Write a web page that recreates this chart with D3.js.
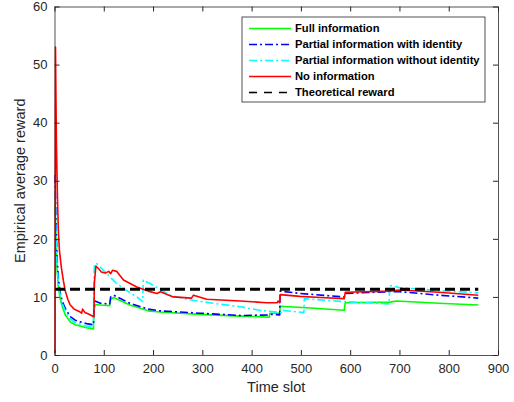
<!DOCTYPE html>
<html>
  <head>
    <meta charset="utf-8" />
    <style>
      body {
        margin: 0;
        background: #fff;
      }
      svg {
        font-family: "Liberation Sans", Arial, sans-serif;
      }
      .axis text {
        font-size: 13px;
        fill: #262626;
      }
      .axis line,
      .axis path {
        stroke: #262626;
      }
      .axis-label {
        font-size: 14.5px;
        fill: #262626;
      }
      .legend text {
        font-size: 11.2px;
        font-weight: bold;
        fill: #000;
      }
    </style>
  </head>
  <body>
    <svg width="514" height="402"></svg>

    <script src="https://d3js.org/d3.v7.min.js"></script>
    <script>
      // values, [time slot, reward]
      const fullInfo = [
        [1, 26], [3, 20], [5, 15], [8, 11.5], [12, 9.5], [16, 8.3], [22, 6.9],
        [32, 5.7], [42, 5.2], [52, 5.0], [65, 4.7], [79, 4.5], [80, 7.5],
        [82, 8.7], [93, 8.6], [112, 8.5], [114, 9.6], [120, 9.9], [153, 8.6],
        [190, 7.6], [214, 7.4], [295, 7.0], [377, 6.7], [417, 6.6], [436, 6.5],
        [437, 7.2], [457, 7.2], [458, 8.4], [520, 8.1], [588, 7.7], [590, 9.0],
        [680, 9.1], [694, 9.3], [780, 8.9], [860, 8.6],
      ];
      const partialId = [
        [1, 31], [3, 23], [5, 17], [8, 13], [12, 10.5], [16, 9.2], [22, 8.0],
        [32, 6.6], [42, 6.0], [52, 5.7], [65, 5.4], [79, 5.2], [80, 7.8],
        [82, 9.3], [93, 8.9], [112, 8.8], [114, 10.0], [120, 10.3], [153, 8.9],
        [190, 7.9], [214, 7.6], [295, 7.2], [377, 6.8], [434, 6.9], [440, 7.0],
        [457, 6.9], [458, 11.0], [498, 10.6], [588, 10.0], [590, 10.6],
        [680, 10.9], [700, 10.9], [780, 10.3], [860, 9.8],
      ];
      const partialNoId = [
        [1, 28], [3, 21], [5, 16], [8, 12], [12, 10], [16, 8.8], [22, 7.5],
        [32, 6.2], [42, 5.6], [52, 5.3], [65, 5.0], [79, 4.8], [80, 13],
        [81, 15.7], [86, 15.7], [106, 14.0], [126, 12.3], [150, 10.9],
        [167, 10.0], [179, 9.2], [180, 12.9], [194, 12.3], [234, 10.3],
        [275, 9.5], [322, 8.9], [377, 8.3], [417, 7.7], [460, 7.3], [461, 7.7],
        [506, 7.3], [507, 9.7], [586, 9.2], [679, 8.8], [680, 12.0],
        [700, 11.6], [780, 11.1], [860, 10.7],
      ];
      const noInfo = [
        [1, 0.3], [2, 53], [3, 44], [4, 36], [6, 27], [8, 21], [10, 18],
        [14, 15], [18, 12.8], [22, 11], [27, 9.6], [32, 8.6], [40, 7.9],
        [50, 7.5], [55, 7.2], [57, 7.9], [62, 7.3], [70, 7.0], [80, 6.6],
        [81, 12.5], [84, 15.3], [90, 14.8], [95, 14.3], [103, 14.1],
        [110, 14.4], [114, 14.0], [118, 14.6], [126, 14.4], [140, 12.9],
        [167, 11.7], [190, 11.0], [208, 10.6], [215, 10.9], [241, 10.0],
        [278, 9.8], [282, 10.3], [309, 9.6], [377, 9.3], [430, 9.0],
        [452, 9.0], [454, 9.3], [457, 9.0], [458, 10.4], [498, 10.1],
        [540, 9.9], [588, 9.7], [590, 10.8], [680, 11.0], [700, 11.2],
        [780, 10.8], [860, 10.3],
      ];
      const theoretical = [
        [1, 11.3], [860, 11.3],
      ];

      const xTicks = [0, 100, 200, 300, 400, 500, 600, 700, 800, 900];
      const yTicks = [0, 10, 20, 30, 40, 50, 60];

      const series = [
        { name: "Full information", data: fullInfo, color: "#00ff00", width: 1.6, dash: null },
        { name: "Partial information with identity", data: partialId, color: "#0000ff", width: 1.6, dash: "8,3,2,3" },
        { name: "Partial information without identity", data: partialNoId, color: "#00ffff", width: 1.6, dash: "8,3,2,3" },
        { name: "No information", data: noInfo, color: "#ff0000", width: 1.6, dash: null },
        { name: "Theoretical reward", data: theoretical, color: "#000000", width: 3, dash: "10,5" },
      ];

      const svg = d3.select("svg");
      const margin = { top: 6.5, right: 16, bottom: 47, left: 54.5 };
      const width = 514;
      const height = 402;

      const x = d3.scaleLinear().domain([0, 900]).range([margin.left, width - margin.right]);
      const y = d3.scaleLinear().domain([0, 60]).range([height - margin.bottom, margin.top]);

      // white plot box
      svg
        .append("rect")
        .attr("x", x(0))
        .attr("y", y(60))
        .attr("width", x(900) - x(0))
        .attr("height", y(0) - y(60))
        .attr("fill", "#fff");

      const line = d3
        .line()
        .x((d) => x(d[0]))
        .y((d) => y(d[1]));

      const graph = svg.append("g").attr("class", "graph");
      for (let s of series) {
        graph
          .append("path")
          .datum(s.data)
          .attr("d", line)
          .attr("fill", "none")
          .attr("stroke", s.color)
          .attr("stroke-width", s.width)
          .attr("stroke-linejoin", "round")
          .attr("stroke-dasharray", s.dash);
      }

      // axes, ticks inward, mirrored on top and right
      svg
        .append("g")
        .attr("class", "x axis")
        .attr("transform", `translate(0, ${y(0)})`)
        .call(d3.axisBottom(x).tickValues(xTicks).tickSizeInner(-5).tickSizeOuter(0).tickPadding(9))
        .call((g) => g.selectAll(".domain").attr("stroke-width", 0.8));

      svg
        .append("g")
        .attr("class", "x axis")
        .attr("transform", `translate(0, ${y(60)})`)
        .call(d3.axisTop(x).tickValues(xTicks).tickSizeInner(-5).tickSizeOuter(0).tickFormat(""))
        .call((g) => g.selectAll(".domain").attr("stroke-width", 0.8));

      svg
        .append("g")
        .attr("class", "y axis")
        .attr("transform", `translate(${x(0)}, 0)`)
        .call(d3.axisLeft(y).tickValues(yTicks).tickSizeInner(-5).tickSizeOuter(0).tickPadding(7))
        .call((g) => g.selectAll(".domain").attr("stroke-width", 0.8));

      svg
        .append("g")
        .attr("class", "y axis")
        .attr("transform", `translate(${x(900)}, 0)`)
        .call(d3.axisRight(y).tickValues(yTicks).tickSizeInner(-5).tickSizeOuter(0).tickFormat(""))
        .call((g) => g.selectAll(".domain").attr("stroke-width", 0.8));

      svg
        .append("text")
        .attr("class", "axis-label")
        .attr("x", (x(0) + x(900)) / 2)
        .attr("y", 392)
        .attr("text-anchor", "middle")
        .text("Time slot");

      svg
        .append("text")
        .attr("class", "axis-label")
        .attr("transform", `translate(25, ${(y(0) + y(60)) / 2}) rotate(-90)`)
        .attr("text-anchor", "middle")
        .text("Empirical average reward");

      // legend
      const legend = svg.append("g").attr("class", "legend");
      legend
        .append("rect")
        .attr("x", 242)
        .attr("y", 17)
        .attr("width", 243)
        .attr("height", 85)
        .attr("fill", "#fff")
        .attr("stroke", "#262626")
        .attr("stroke-width", 0.8);

      series.forEach((s, i) => {
        let ly = 28.5 + i * 16;
        legend
          .append("line")
          .attr("x1", 249)
          .attr("x2", 291)
          .attr("y1", ly)
          .attr("y2", ly)
          .attr("stroke", s.color)
          .attr("stroke-width", s.name == "Theoretical reward" ? 1.6 : s.width)
          .attr("stroke-dasharray", s.name == "Theoretical reward" ? "8,7" : s.dash);
        legend
          .append("text")
          .attr("x", 295)
          .attr("y", ly)
          .attr("dy", "0.35em")
          .text(s.name);
      });
    </script>
  </body>
</html>
